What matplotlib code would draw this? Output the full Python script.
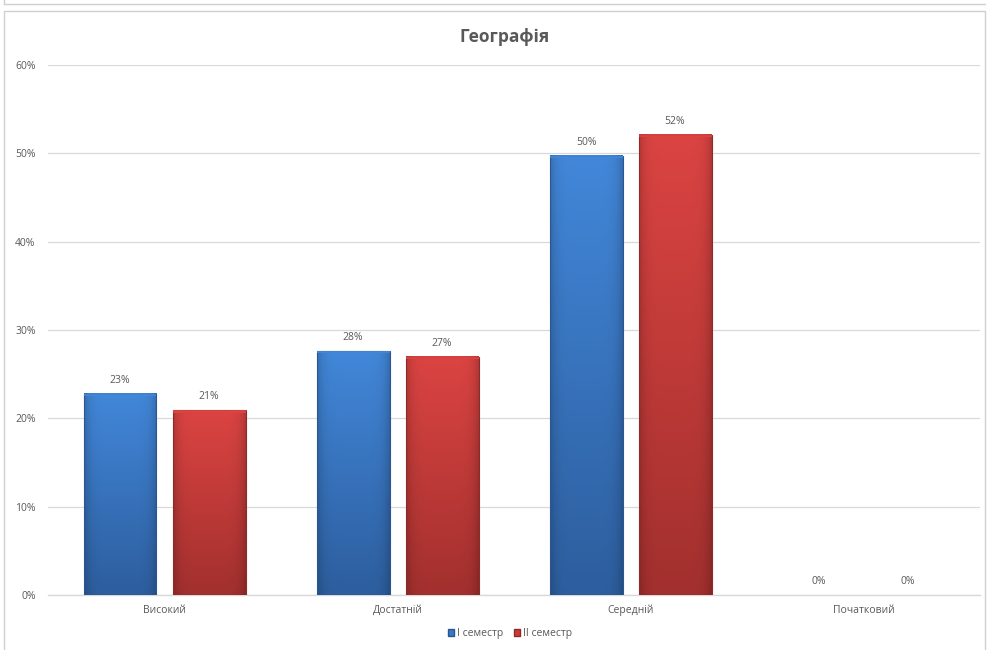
import numpy as np
import matplotlib.pyplot as plt
from matplotlib.patches import Rectangle
from matplotlib.lines import Line2D
from matplotlib.colors import LinearSegmentedColormap

categories = ['Високий', 'Достатній', 'Середній', 'Початковий']
sem1 = [22.8, 27.6, 49.7, 0.0]
sem2 = [20.9, 27.0, 52.1, 0.0]
labels1 = ['23%', '28%', '50%', '0%']
labels2 = ['21%', '27%', '52%', '0%']
series_names = ['I семестр', 'II семестр']
title = 'Географія'

plt.rcParams['font.family'] = ['Open Sans', 'DejaVu Sans']

fig = plt.figure(figsize=(9.88, 6.5), dpi=100)
ax = fig.add_axes([0.0486, 0.0846, 0.9434, 0.8154])

# outer frame lines (screenshot borders)
fig.add_artist(Line2D([0.004, 0.997], [0.994, 0.994], color='#d0d0d0', lw=1))
fig.add_artist(Line2D([0.004, 0.004], [0.994, 1.0], color='#d0d0d0', lw=1))
fig.add_artist(Rectangle((0.004, -0.01), 0.993, 0.993, fill=False,
                         edgecolor='#d0d0d0', lw=1, transform=fig.transFigure))


def shaded_bar(ax, x, w, h, top, bottom, edge):
    if h <= 0:
        return
    cmap = LinearSegmentedColormap.from_list('v', [bottom, top])
    rows = np.linspace(0, 1, 128)[:, None]
    cols = np.linspace(-1, 1, 64)[None, :]
    base = cmap(rows)[:, :, :3]
    shade = 1 - 0.18 * np.abs(cols) ** 6
    img = base * shade[:, :, None]
    ax.imshow(img, extent=(x - w / 2, x + w / 2, 0, h), origin='lower',
              aspect='auto', zorder=3, interpolation='bilinear')
    ax.add_patch(Rectangle((x - w / 2, 0), w, h, fill=False, edgecolor=edge,
                           lw=0.8, zorder=4))
    # light top cap
    ax.add_patch(Rectangle((x - w / 2, h - 0.25), w, 0.25, facecolor=top,
                           edgecolor='none', alpha=0.9, zorder=4))


x = np.arange(len(categories))
w = 0.313
off = 0.191
for i in range(len(categories)):
    shaded_bar(ax, x[i] - off, w, sem1[i], '#4287d9', '#2d5e9e', '#2b5791')
    shaded_bar(ax, x[i] + off, w, sem2[i], '#db4442', '#a2302e', '#8e2a28')
    ax.text(x[i] - off, sem1[i] + 0.9, labels1[i], ha='center', va='bottom',
            fontsize=7.5, color='#595959')
    ax.text(x[i] + off, sem2[i] + 0.9, labels2[i], ha='center', va='bottom',
            fontsize=7.5, color='#595959')

ax.set_xlim(-0.5, 3.5)
ax.set_ylim(0, 60)
ax.set_yticks(np.arange(0, 61, 10))
ax.set_yticklabels([f'{v}%' for v in range(0, 61, 10)])
ax.set_xticks(x)
ax.set_xticklabels(categories)
ax.tick_params(axis='both', length=0, labelsize=7.5, colors='#595959')
ax.tick_params(axis='y', pad=9)
ax.tick_params(axis='x', pad=7)
ax.grid(axis='y', color='#d9d9d9', lw=0.9, zorder=0)
ax.set_axisbelow(True)
for s in ['top', 'right', 'left']:
    ax.spines[s].set_visible(False)
ax.spines['bottom'].set_color('#d9d9d9')
ax.spines['bottom'].set_linewidth(1.0)

fig.text(0.511, 0.943, title, ha='center', va='center', fontsize=12.5,
         fontweight='bold', color='#595959')

handles = [Rectangle((0, 0), 1, 1, facecolor='#3a78c6', edgecolor='#2b5791'),
           Rectangle((0, 0), 1, 1, facecolor='#c83b39', edgecolor='#8e2a28')]
fig.legend(handles, series_names, loc='center', bbox_to_anchor=(0.516, 0.025),
           ncol=2, frameon=False, fontsize=7.5, handlelength=0.6,
           handleheight=0.6, handletextpad=0.3, columnspacing=1.0,
           labelcolor='#595959')

fig.savefig('out.png', dpi=100)
